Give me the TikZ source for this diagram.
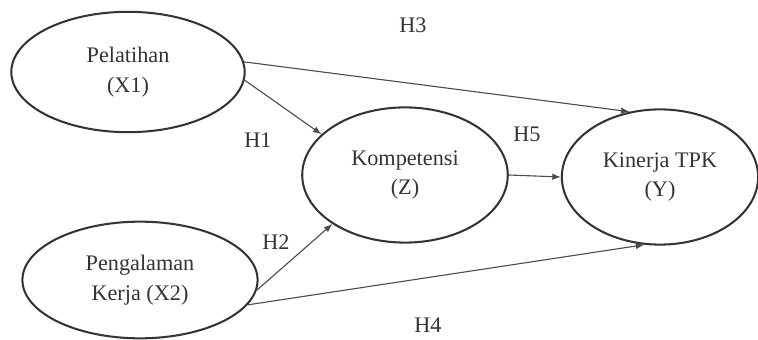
\documentclass[tikz,border=0pt]{standalone}
\usepackage{fontspec}
\setmainfont{Liberation Serif}
\usepackage{tikz}
\usetikzlibrary{arrows.meta}
\usetikzlibrary{shapes}

\begin{document}
\begin{tikzpicture}[>=latex,line join=bevel,x=0.54pt,y=-0.54pt,
  var/.style={draw=black!80,line width=1.1pt,ellipse,inner sep=0pt,align=center,
    font=\fontsize{12}{16}\selectfont,text=black!80},
  hyp/.style={font=\fontsize{12}{14}\selectfont,text=black!80},
  path/.style={black!70,line width=0.6pt,->}]
\useasboundingbox (0,0) rectangle (758,340);
%%
\node (pel) at (128,72) [var,minimum width=126pt,minimum height=65pt] {Pelatihan\\(X1)};
  \node (peng) at (140,280) [var,minimum width=127pt,minimum height=63pt] {Pengalaman\\Kerja (X2)};
  \node (komp) at (405,175) [var,minimum width=111pt,minimum height=73pt] {Kompetensi\\(Z)};
  \node (kin) at (660,177) [var,minimum width=106pt,minimum height=73pt] {Kinerja TPK\\(Y)};
%
  \node (h1) at (258,140) [hyp] {H1};
  \node (h2) at (276,242) [hyp] {H2};
  \node (h3) at (413,25) [hyp] {H3};
  \node (h4) at (428,325) [hyp] {H4};
  \node (h5) at (527,134) [hyp] {H5};
%
  \draw [path] (pel.-4) -- (komp.154);
  \draw [path] (peng.-5) -- (komp.214);
  \draw [path] (pel.5) -- (kin.115);
  \draw [path] (peng.-13) -- (kin.257);
  \draw [path] (komp.east) -- (kin.west);
%
\end{tikzpicture}
\end{document}
